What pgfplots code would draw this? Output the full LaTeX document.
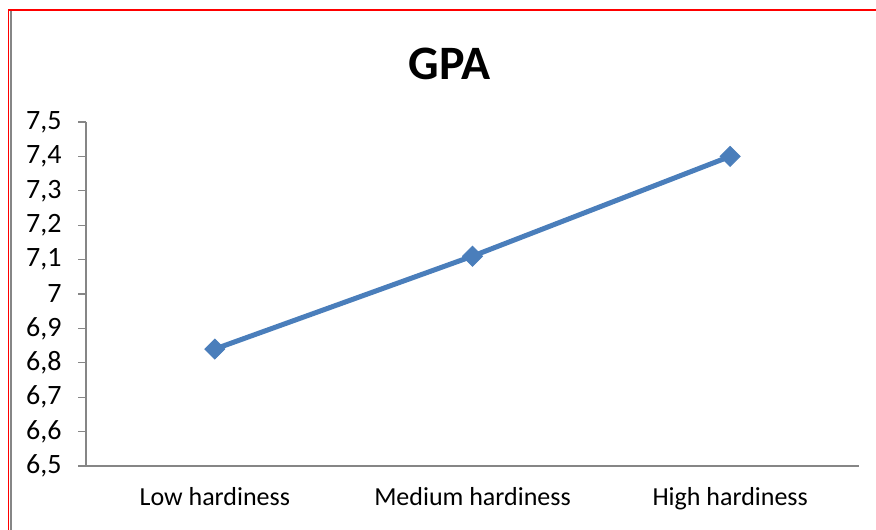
\documentclass[border=0pt]{standalone}
\usepackage{pgfplots}
\pgfplotsset{compat=1.18}
\usepackage{fontspec}
\setmainfont{Carlito}
\definecolor{serblue}{RGB}{74,126,187}
\definecolor{axgray}{RGB}{134,134,134}
\begin{document}
\begin{tikzpicture}
\useasboundingbox (0,0) rectangle (876pt,530pt);
\fill[white] (0,0) rectangle (876pt,530pt);
\begin{axis}[
  at={(86pt,64pt)}, anchor=south west,
  scale only axis, width=773pt, height=344pt,
  xmin=-0.5, xmax=2.5, ymin=6.5, ymax=7.5,
  axis x line*=bottom, axis y line*=left,
  axis line style={axgray, line width=1.2pt},
  xtick=data, xticklabels={Low hardiness, Medium hardiness, High hardiness},
  xtick style={draw=none},
  xticklabel style={font=\fontsize{26}{30}\selectfont, yshift=-10pt},
  ytick={6.5,6.6,...,7.51},
  ytick style={axgray, line width=1.2pt},
  tick align=outside, major tick length=8pt,
  yticklabel style={font=\fontsize{28}{32}\selectfont, xshift=-13pt},
  /pgf/number format/.cd, use comma, assume math mode=true, precision=1,
  /pgfplots/.cd,
  title={\textbf{GPA}},
  title style={font=\fontsize{48}{52}\selectfont, at={(0.5,1)}, anchor=center, yshift=52pt, xshift=-23pt},
]
\addplot[serblue, line width=5pt, mark=square*, mark size=7pt, mark options={solid, fill=serblue, line width=1pt, rotate=45}]
  coordinates {(0,6.84) (1,7.11) (2,7.40)};
\end{axis}
\draw[axgray, line width=2pt] (11pt,0) -- (11pt,520pt);
\draw[red, line width=1.5pt] (8.5pt,0) -- (8.5pt,520pt) -- (876pt,520pt);
\end{tikzpicture}
\end{document}
